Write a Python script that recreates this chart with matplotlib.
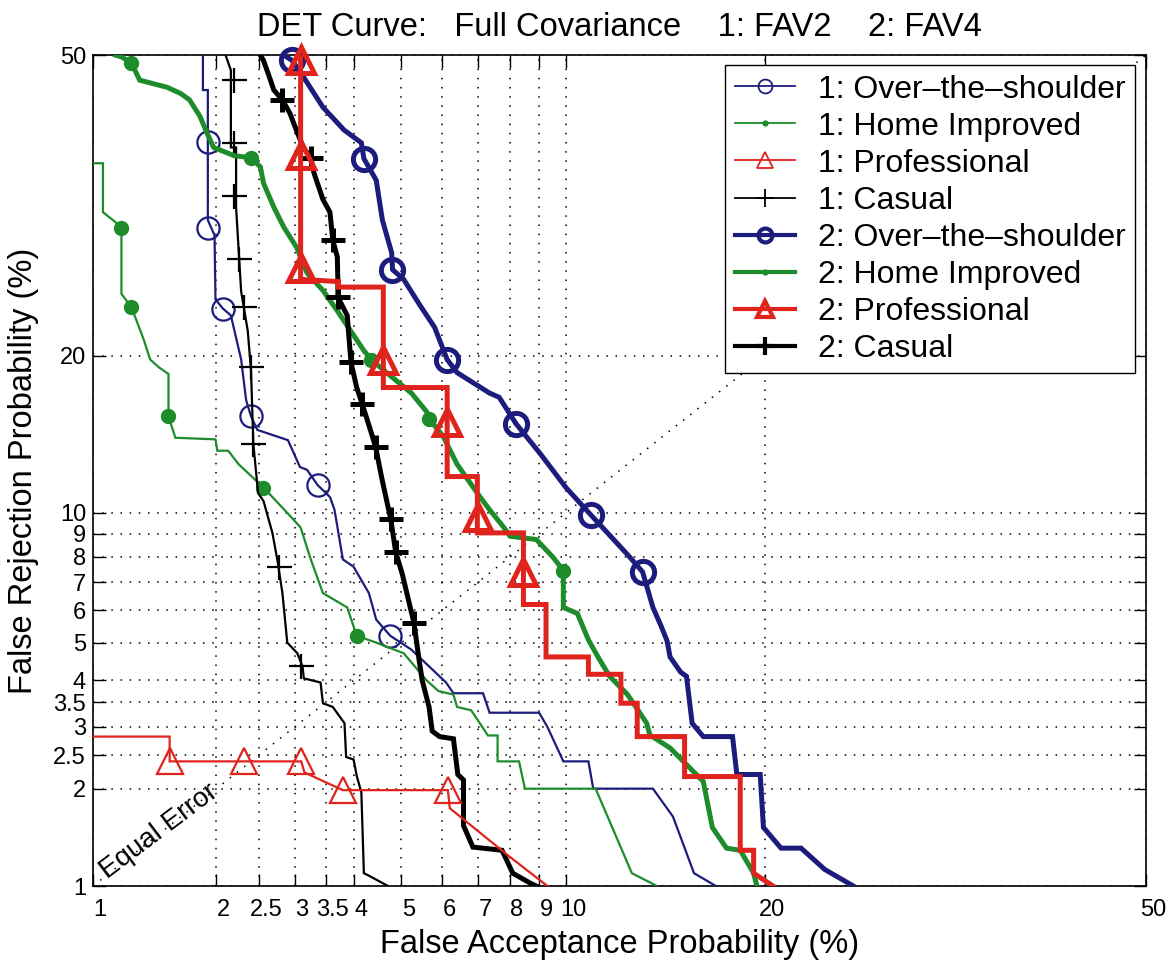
"""DET curves (full covariance, FAV2 vs FAV4) on normal-deviate axes."""

import math

import matplotlib
matplotlib.use("Agg")
import matplotlib.pyplot as plt
import matplotlib.transforms as mtransforms
from matplotlib.lines import Line2D
from matplotlib.ticker import FixedLocator, FixedFormatter
import numpy as np

plt.rcParams["font.family"] = ["Liberation Sans", "DejaVu Sans"]

# ---- data (percent) -------------------------------------------------------
TICKS = [1, 2, 2.5, 3, 3.5, 4, 5, 6, 7, 8, 9, 10, 20, 50]
TICK_LABELS = ["1", "2", "2.5", "3", "3.5", "4", "5", "6", "7", "8", "9",
               "10", "20", "50"]

# 1: Over-the-shoulder
ots1_fa = [1.86, 1.86, 1.91, 1.91, 1.98, 1.99, 2.07, 2.16, 2.28, 2.34, 2.40,
           2.48, 2.90, 3.08, 3.19, 3.36, 3.57, 3.65, 3.80, 4.00, 4.30, 4.45,
           4.75, 5.23, 6.10, 6.30, 7.15, 7.35, 9.00, 9.30, 9.90, 10.9, 11.1,
           13.8, 14.8, 15.9, 17.1]
ots1_fr = [50, 46.1, 46.1, 32.2, 30.7, 24.7, 23.9, 23.3, 19.7, 16.7, 15.6,
           14.7, 14.05, 12.44, 12.28, 11.44, 10.8, 10.15, 7.9, 7.6, 6.6, 5.7,
           5.2, 4.8, 3.95, 3.7, 3.7, 3.28, 3.28, 3.0, 2.4, 2.4, 2.0,
           2.0, 1.65, 1.1, 1.0]
ots1_mk_fa = [1.91, 1.91, 2.07, 2.40, 3.36, 4.75]
ots1_mk_fr = [40.4, 31.4, 23.9, 15.6, 11.44, 5.2]

# 1: Home Improved
hi1_fa = [0.9, 1.06, 1.06, 1.14, 1.18, 1.18, 1.25, 1.34, 1.39, 1.46, 1.54,
          1.54, 1.60, 1.99, 2.01, 2.13, 2.25, 2.56, 2.89, 3.09, 3.25, 3.45,
          3.88, 4.06, 4.45, 5.05, 5.60, 5.90, 6.30, 6.40, 6.80, 7.30, 7.60,
          7.60, 8.30, 8.50, 11.2, 12.8, 14.0]
hi1_fr = [38.1, 38.1, 33.0, 32.0, 31.4, 25.2, 24.0, 21.3, 19.7, 19.1, 18.6,
          15.6, 14.2, 14.1, 13.4, 13.4, 12.6, 11.3, 10.0, 9.3, 7.9, 6.6,
          6.1, 5.2, 5.0, 4.7, 4.0, 3.75, 3.67, 3.4, 3.33, 2.84, 2.84,
          2.4, 2.4, 2.0, 2.0, 1.1, 1.0]
hi1_mk_fa = [1.18, 1.25, 1.54, 2.56, 4.06]
hi1_mk_fr = [31.4, 24.0, 15.6, 11.3, 5.2]

# 1: Professional
pro1_fa = [0.9, 1.55, 1.55, 3.10, 3.15, 3.80, 6.15, 6.20, 7.90, 9.30]
pro1_fr = [2.82, 2.82, 2.40, 2.40, 2.23, 1.98, 1.98, 1.75, 1.26, 1.0]
pro1_mk_fa = [1.55, 2.31, 3.10, 3.80, 6.15]
pro1_mk_fr = [2.40, 2.40, 2.40, 1.98, 1.98]

# 1: Casual
cas1_fa = [2.10, 2.16, 2.16, 2.22, 2.22, 2.28, 2.36, 2.40, 2.43, 2.49, 2.56,
           2.68, 2.75, 2.82, 2.89, 3.04, 3.12, 3.14, 3.41, 3.45, 3.62, 3.83,
           3.86, 4.00, 4.06, 4.15, 4.20, 4.30, 4.70]
cas1_fr = [50, 48.3, 39.8, 39.8, 33.5, 25.4, 22.0, 18.9, 13.8, 11.0, 10.6,
           9.05, 7.85, 6.6, 5.0, 4.7, 4.35, 4.05, 3.95, 3.48, 3.4, 3.07,
           2.47, 2.43, 2.18, 1.95, 1.1, 1.08, 1.0]
cas1_mk_fa = [2.20, 2.20, 2.20, 2.25, 2.32, 2.40, 2.43, 2.77, 3.09]
cas1_mk_fr = [47.2, 40.3, 34.7, 28.4, 24.0, 19.1, 13.8, 7.6, 4.35]

# 2: Over-the-shoulder
ots2_fa = [2.84, 2.96, 3.13, 3.45, 3.82, 4.15, 4.20, 4.45, 4.58, 4.78, 4.80,
           5.05, 5.45, 5.80, 6.13, 6.40, 7.35, 7.65, 8.20, 9.05, 10.0, 11.0,
           12.6, 13.3, 13.8, 14.2, 14.5, 14.65, 15.2, 15.5, 15.8, 16.4, 18.05,
           18.3, 19.7, 19.9, 21.0, 22.3, 23.9, 25.9]
ots2_fr = [50, 49.4, 47.6, 44.2, 41.7, 40.3, 38.6, 36.3, 32.2, 29.0, 27.4,
           26.5, 24.1, 22.3, 19.7, 18.7, 17.2, 16.9, 15.1, 13.2, 11.3, 9.9,
           8.1, 7.4, 6.1, 5.5, 5.05, 4.6, 4.2, 4.1, 3.07, 2.82, 2.82,
           2.2, 2.2, 1.53, 1.32, 1.32, 1.13, 1.0]
ots2_mk_fa = [2.96, 4.20, 4.78, 6.13, 8.20, 11.0, 13.3]
ots2_mk_fr = [49.4, 38.6, 27.4, 19.7, 15.1, 9.9, 7.4]

# 2: Home Improved
hi2_fa = [1.14, 1.18, 1.25, 1.31, 1.53, 1.65, 1.73, 1.83, 1.90, 1.97, 2.20,
          2.40, 2.52, 2.56, 2.70, 2.84, 3.03, 3.19, 3.45, 3.70, 3.93, 4.20,
          4.35, 4.60, 5.23, 5.60, 5.67, 6.02, 6.40, 6.98, 7.35, 7.80, 8.00,
          8.90, 9.50, 9.90, 9.90, 10.45, 10.9, 11.3, 11.8, 12.6, 13.5, 13.65,
          14.65, 16.4, 16.9, 17.7, 18.5, 19.3, 19.5]
hi2_fr = [50, 49.8, 49.1, 47.2, 46.4, 45.7, 45.0, 43.2, 41.4, 39.8, 38.9,
          38.7, 37.7, 36.0, 33.5, 31.5, 29.5, 27.1, 25.5, 23.7, 22.1, 20.4,
          19.7, 18.9, 17.2, 15.9, 15.4, 14.3, 12.6, 11.0, 10.15, 9.3, 8.9,
          8.75, 8.0, 7.45, 6.1, 5.9, 5.08, 4.6, 4.1, 3.67, 3.07, 2.85,
          2.62, 2.1, 1.53, 1.32, 1.3, 1.1, 1.0]
hi2_mk_fa = [1.25, 2.40, 4.35, 5.67, 9.90]
hi2_mk_fr = [49.1, 38.7, 19.7, 15.4, 7.45]

# 2: Professional
pro2_fa = [3.09, 3.09, 3.72, 3.72, 4.60, 4.60, 6.13, 6.13, 6.98, 6.98, 8.45,
           8.45, 9.25, 9.25, 10.9, 10.9, 12.3, 12.3, 13.05, 13.05, 15.4, 15.4,
           18.5, 18.5, 19.3, 19.3, 20.5]
pro2_fr = [50, 26.5, 26.3, 25.8, 25.8, 17.6, 17.6, 11.9, 11.9, 9.05, 9.05,
           6.2, 6.2, 4.6, 4.6, 4.15, 4.15, 3.48, 3.48, 2.82, 2.82, 2.17,
           2.17, 1.3, 1.3, 1.1, 1.0]
pro2_mk_fa = [3.09, 3.09, 3.09, 4.60, 6.13, 7.00, 8.45]
pro2_mk_fr = [49.4, 39.0, 27.6, 19.7, 15.2, 9.8, 7.4]

# 2: Casual
cas2_fa = [2.52, 2.56, 2.62, 2.70, 2.82, 2.93, 3.04, 3.13, 3.25, 3.30, 3.45,
           3.57, 3.62, 3.70, 3.71, 3.71, 3.88, 3.95, 4.06, 4.17, 4.36, 4.44,
           4.56, 4.70, 4.76, 4.87, 5.02, 5.17, 5.29, 5.41, 5.49, 5.66, 5.74,
           5.93, 6.30, 6.42, 6.58, 6.58, 6.85, 7.74, 8.09, 8.70, 8.90]
cas2_fr = [50, 49.4, 48.0, 46.1, 45.0, 43.5, 41.4, 39.8, 38.7, 37.1, 34.3,
           33.0, 30.2, 28.6, 26.2, 24.9, 23.3, 19.5, 17.6, 16.4, 14.4, 13.6,
           11.9, 10.3, 9.7, 8.2, 7.3, 6.3, 5.6, 4.55, 4.0, 3.4, 2.92,
           2.82, 2.78, 2.2, 2.12, 1.55, 1.33, 1.3, 1.1, 1.02, 1.0]
cas2_mk_fa = [2.82, 3.25, 3.62, 3.71, 3.95, 4.17, 4.44, 4.76, 4.87, 5.29]
cas2_mk_fr = [45.0, 38.7, 30.2, 24.9, 19.5, 16.4, 13.6, 9.7, 8.2, 5.6]

EER_LINE = [1, 50]

NAVY = "#1c1c7c"
GREEN = "#1e8c2a"
RED = "#e0231c"
BLACK = "#000000"


# ---- normal deviate scale ---------------------------------------------------
_A = [-3.969683028665376e+01, 2.209460984245205e+02, -2.759285104469687e+02,
      1.383577518672690e+02, -3.066479806614716e+01, 2.506628277459239e+00]
_B = [-5.447609879822406e+01, 1.615858368580409e+02, -1.556989798598866e+02,
      6.680131188771972e+01, -1.328068155288572e+01]
_C = [-7.784894002430293e-03, -3.223964580411365e-01, -2.400758277161838e+00,
      -2.549732539343734e+00, 4.374664141464968e+00, 2.938163982698783e+00]
_D = [7.784695709041462e-03, 3.224671290700398e-01, 2.445134137142996e+00,
      3.754408661907416e+00]


def _tail(q):
    num = ((((_C[0] * q + _C[1]) * q + _C[2]) * q + _C[3]) * q + _C[4]) * q + _C[5]
    den = (((_D[0] * q + _D[1]) * q + _D[2]) * q + _D[3]) * q + 1
    return num / den


def norm_ppf(p):
    # Acklam's approximation of the inverse normal CDF
    p = np.clip(np.asarray(p, dtype=float), 1e-12, 1 - 1e-12)
    z = np.empty_like(p)
    plow = 0.02425
    lo = p < plow
    hi = p > 1 - plow
    mid = ~(lo | hi)
    if lo.any():
        z[lo] = _tail(np.sqrt(-2 * np.log(p[lo])))
    if hi.any():
        z[hi] = -_tail(np.sqrt(-2 * np.log(1 - p[hi])))
    if mid.any():
        q = p[mid] - 0.5
        r = q * q
        num = (((((_A[0] * r + _A[1]) * r + _A[2]) * r + _A[3]) * r + _A[4]) * r + _A[5]) * q
        den = ((((_B[0] * r + _B[1]) * r + _B[2]) * r + _B[3]) * r + _B[4]) * r + 1
        z[mid] = num / den
    return z


_erf = np.vectorize(math.erf, otypes=[float])


def pct_to_dev(x):
    return norm_ppf(np.asarray(x, dtype=float) / 100.0)


def dev_to_pct(z):
    return 50.0 * (1.0 + _erf(np.asarray(z, dtype=float) / math.sqrt(2)))


# ---- figure -------------------------------------------------------------------
fig = plt.figure(figsize=(11.76, 9.61), dpi=100)
ax = fig.add_axes([0.0791, 0.078, 0.8954, 0.8647])
ax.set_xscale("function", functions=(pct_to_dev, dev_to_pct))
ax.set_yscale("function", functions=(pct_to_dev, dev_to_pct))
ax.set_xlim(1, 50)
ax.set_ylim(1, 50)

for axis in (ax.xaxis, ax.yaxis):
    axis.set_major_locator(FixedLocator(TICKS))
    axis.set_major_formatter(FixedFormatter(TICK_LABELS))

ax.grid(True, color="k", linestyle=(0, (1, 5)), linewidth=1.1)
ax.tick_params(direction="in", top=True, right=True, length=9, width=1.0,
               labelsize=17)
ax.tick_params(axis="x", pad=9)
ax.tick_params(axis="y", pad=5)
for sp in ax.spines.values():
    sp.set_linewidth(1.2)

# equal error diagonal
ax.plot(EER_LINE, EER_LINE, color="k", linestyle=(0, (1, 5)), linewidth=1.1,
        zorder=1)
ax.text(1.09, 1.05, "Equal Error", rotation=37, rotation_mode="anchor",
        ha="left", va="baseline", fontsize=20, zorder=2)

thin, thick = 1.6, 3.6
series = [
    (ots1_fa, ots1_fr, ots1_mk_fa, ots1_mk_fr, NAVY, thin, "o", 16, "none"),
    (hi1_fa, hi1_fr, hi1_mk_fa, hi1_mk_fr, GREEN, thin, "o", 10, GREEN),
    (cas1_fa, cas1_fr, cas1_mk_fa, cas1_mk_fr, BLACK, thin, "+", 18, "none"),
    (ots2_fa, ots2_fr, ots2_mk_fa, ots2_mk_fr, NAVY, thick, "o", 16, "none"),
    (hi2_fa, hi2_fr, hi2_mk_fa, hi2_mk_fr, GREEN, thick, "o", 10, GREEN),
    (cas2_fa, cas2_fr, cas2_mk_fa, cas2_mk_fr, BLACK, thick, "+", 17, "none"),
    (pro2_fa, pro2_fr, pro2_mk_fa, pro2_mk_fr, RED, thick, "^", 19, "none"),
    (pro1_fa, pro1_fr, pro1_mk_fa, pro1_mk_fr, RED, thin, "^", 19, "none"),
]
for z, (fa, fr, mfa, mfr, col, lw, mk, ms, mfc) in enumerate(series):
    ax.plot(fa, fr, color=col, linewidth=lw, zorder=3 + z,
            solid_joinstyle="miter")
    ax.plot(mfa, mfr, linestyle="none", marker=mk, markersize=ms,
            markerfacecolor=mfc, markeredgecolor=col,
            markeredgewidth=lw if mk != "o" or mfc == "none" else 1,
            zorder=3 + z, clip_on=False)

# legend proxies
def proxy(col, lw, mk, ms, mfc):
    return Line2D([], [], color=col, linewidth=lw, marker=mk, markersize=ms,
                  markerfacecolor=mfc, markeredgecolor=col,
                  markeredgewidth=lw if mfc == "none" else 1)


handles = [
    proxy(NAVY, 1.3, "o", 10, "none"),
    proxy(GREEN, 1.3, "o", 3.5, GREEN),
    proxy(RED, 1.3, "^", 11, "none"),
    proxy(BLACK, 1.3, "+", 13, "none"),
    proxy(NAVY, 3.0, "o", 10, "none"),
    proxy(GREEN, 3.0, "o", 3.5, GREEN),
    proxy(RED, 3.0, "^", 11, "none"),
    proxy(BLACK, 3.0, "+", 13, "none"),
]
labels = ["1: Over\u2013the\u2013shoulder", "1: Home Improved", "1: Professional",
          "1: Casual", "2: Over\u2013the\u2013shoulder", "2: Home Improved",
          "2: Professional", "2: Casual"]
leg = ax.legend(handles, labels, loc="upper right",
                bbox_to_anchor=(0.9895, 0.988), borderaxespad=0,
                fontsize=23, frameon=True, fancybox=False, framealpha=1,
                edgecolor="k", labelspacing=0.22, handlelength=1.9,
                handletextpad=0.7, borderpad=0.3)
leg.get_frame().set_linewidth(1.0)
leg.set_zorder(20)

# tick labels sit a little to the right of their ticks
shift = mtransforms.ScaledTranslation(7 / 100, 0, fig.dpi_scale_trans)
for lab in ax.get_xticklabels():
    lab.set_transform(lab.get_transform() + shift)

ax.set_title("DET Curve:   Full Covariance    1: FAV2    2: FAV4",
             fontsize=23.5, pad=14)
ax.set_xlabel("False Acceptance Probability (%)", fontsize=23.5, labelpad=6)
ax.set_ylabel("False Rejection Probability (%)", fontsize=23.5, labelpad=10)

fig.savefig("out.png", dpi=100)
